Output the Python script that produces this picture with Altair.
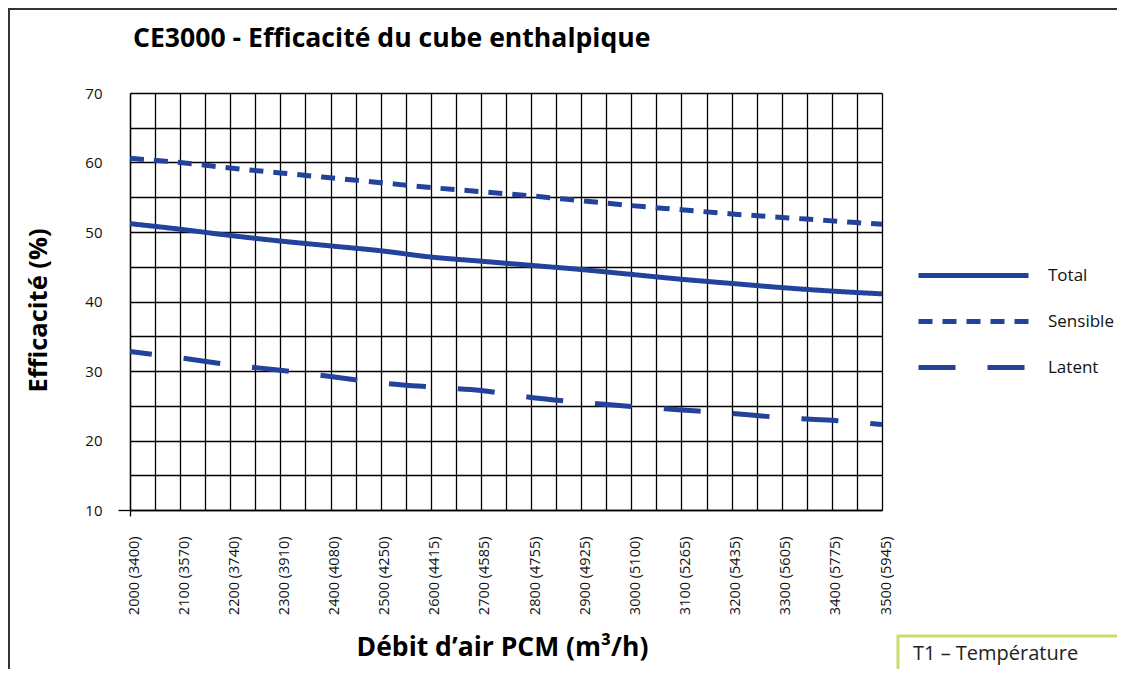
import altair as alt
import pandas as pd

# ---- data ----
flow_pcm = [2000, 2100, 2200, 2300, 2400, 2500, 2600, 2700,
            2800, 2900, 3000, 3100, 3200, 3300, 3400, 3500]
flow_m3h = [3400, 3570, 3740, 3910, 4080, 4250, 4415, 4585,
            4755, 4925, 5100, 5265, 5435, 5605, 5775, 5945]
total = [51.2, 50.4, 49.5, 48.7, 48.0, 47.3, 46.4, 45.8,
         45.2, 44.6, 43.9, 43.2, 42.6, 42.0, 41.5, 41.1]
sensible = [60.6, 60.0, 59.2, 58.5, 57.8, 57.1, 56.4, 55.8,
            55.2, 54.5, 53.8, 53.2, 52.6, 52.1, 51.6, 51.1]
latent = [32.8, 31.9, 30.9, 30.1, 29.2, 28.3, 27.7, 27.2,
          26.2, 25.5, 24.9, 24.4, 23.9, 23.3, 22.9, 22.3]
series_names = ["Total", "Sensible", "Latent"]

title_text = "CE3000 - Efficacité du cube enthalpique"
x_title = "Débit d’air PCM (m³/h)"
y_title = "Efficacité (%)"
note_text = "T1 – Température"

# ---- styles ----
FONT = "Open Sans"
BLUE = "#23429c"
DASHES = [[1, 0], [14, 10], [37, 32]]

rows = []
for name, vals in zip(series_names, [total, sensible, latent]):
    for f, v in zip(flow_pcm, vals):
        rows.append({"flow": f, "value": v, "series": name})
df = pd.DataFrame(rows)

m3h_map = "{" + ",".join(f"'{p}':'{m}'" for p, m in zip(flow_pcm, flow_m3h)) + "}"
x_label_expr = f"datum.value % 100 == 0 ? datum.value + ' (' + {m3h_map}[datum.value + ''] + ')' : ''"

x_axis = alt.Axis(
    values=list(range(2000, 3501, 50)),
    labelExpr=x_label_expr,
    labelAngle=-90,
    labelFont=FONT, labelFontSize=14.5, labelColor="#111",
    labelPadding=20, labelOffset=4,
    tickSize=6, tickWidth=1.3,
    tickColor={"condition": {"test": "datum.value == 2000", "value": "black"}, "value": "transparent"},
    grid=True, gridColor="black", gridWidth=1.3, gridOpacity=1,
    domainColor="black", domainWidth=1.5,
    title=x_title, titleFont=FONT, titleFontSize=26.5, titleFontWeight="bold",
    titleColor="black", titleX=372, titleY=145, titleAlign="center",
    titleBaseline="alphabetic",
)
y_axis = alt.Axis(
    values=list(range(10, 71, 5)),
    labelExpr="datum.value % 10 == 0 ? datum.label : ''",
    labelFont=FONT, labelFontSize=15, labelColor="#111",
    labelPadding=16,
    tickSize=12, tickWidth=1.3,
    tickColor={"condition": {"test": "datum.value == 10", "value": "black"}, "value": "transparent"},
    grid=True, gridColor="black", gridWidth=1.3, gridOpacity=1,
    domainColor="black", domainWidth=1.3,
    title=y_title, titleFont=FONT, titleFontSize=25.5, titleFontWeight="bold",
    titleColor="black", titleAngle=270, titleX=-92, titleY=217,
    titleAlign="center", titleBaseline="middle",
)

enc = dict(
    x=alt.X("flow:Q", scale=alt.Scale(domain=[2000, 3500], nice=False), axis=x_axis),
    y=alt.Y("value:Q", scale=alt.Scale(domain=[10, 70], nice=False), axis=y_axis),
    strokeDash=alt.StrokeDash(
        "series:N",
        scale=alt.Scale(domain=series_names, range=DASHES),
        sort=series_names,
        legend=alt.Legend(
            title=None, orient="none", legendX=830, legendY=169,
            symbolType="M-5,0H5", symbolSize=484, symbolStrokeWidth=5,
            symbolStrokeColor=BLUE, symbolFillColor="transparent",
            labelFont=FONT, labelFontSize=17,
            labelColor="#111", labelOffset=61, rowPadding=22, padding=0,
        ),
    ),
)

lines_main = alt.Chart(df[df["series"] != "Latent"]).mark_line(
    color=BLUE, strokeWidth=5, interpolate="monotone"
).encode(**enc)
lines_latent = alt.Chart(df[df["series"] == "Latent"]).mark_line(
    color=BLUE, strokeWidth=5, interpolate="monotone", strokeDashOffset=15
).encode(**enc)

one = pd.DataFrame({"k": [0]})
frame = alt.Chart(one).mark_rect(fillOpacity=0, stroke="#333", strokeWidth=2).encode(
    x=alt.value(-121), x2=alt.value(2000), y=alt.value(-84), y2=alt.value(2000)
)
title = alt.Chart(one).mark_text(
    text=title_text, align="left", baseline="alphabetic", font=FONT,
    fontSize=26.6, fontWeight="bold", color="black"
).encode(x=alt.value(3), y=alt.value(-46))
note_box = alt.Chart(one).mark_rect(fill="white", stroke="#c9dd6f", strokeWidth=3).encode(
    x=alt.value(768), x2=alt.value(2000), y=alt.value(543), y2=alt.value(2000)
)
note = alt.Chart(one).mark_text(
    text=note_text, align="left", baseline="alphabetic", font=FONT, fontSize=20, color="#222"
).encode(x=alt.value(783), y=alt.value(567))

chart = alt.layer(frame, title, lines_main, lines_latent, note_box, note).properties(
    width=752, height=417,
    autosize=alt.AutoSizeParams(type="none"),
    padding={"left": 122, "top": 85, "right": 235, "bottom": 159},
).configure_view(strokeWidth=0)

chart.save("out.html", embed_options={"renderer": "svg", "actions": False})
